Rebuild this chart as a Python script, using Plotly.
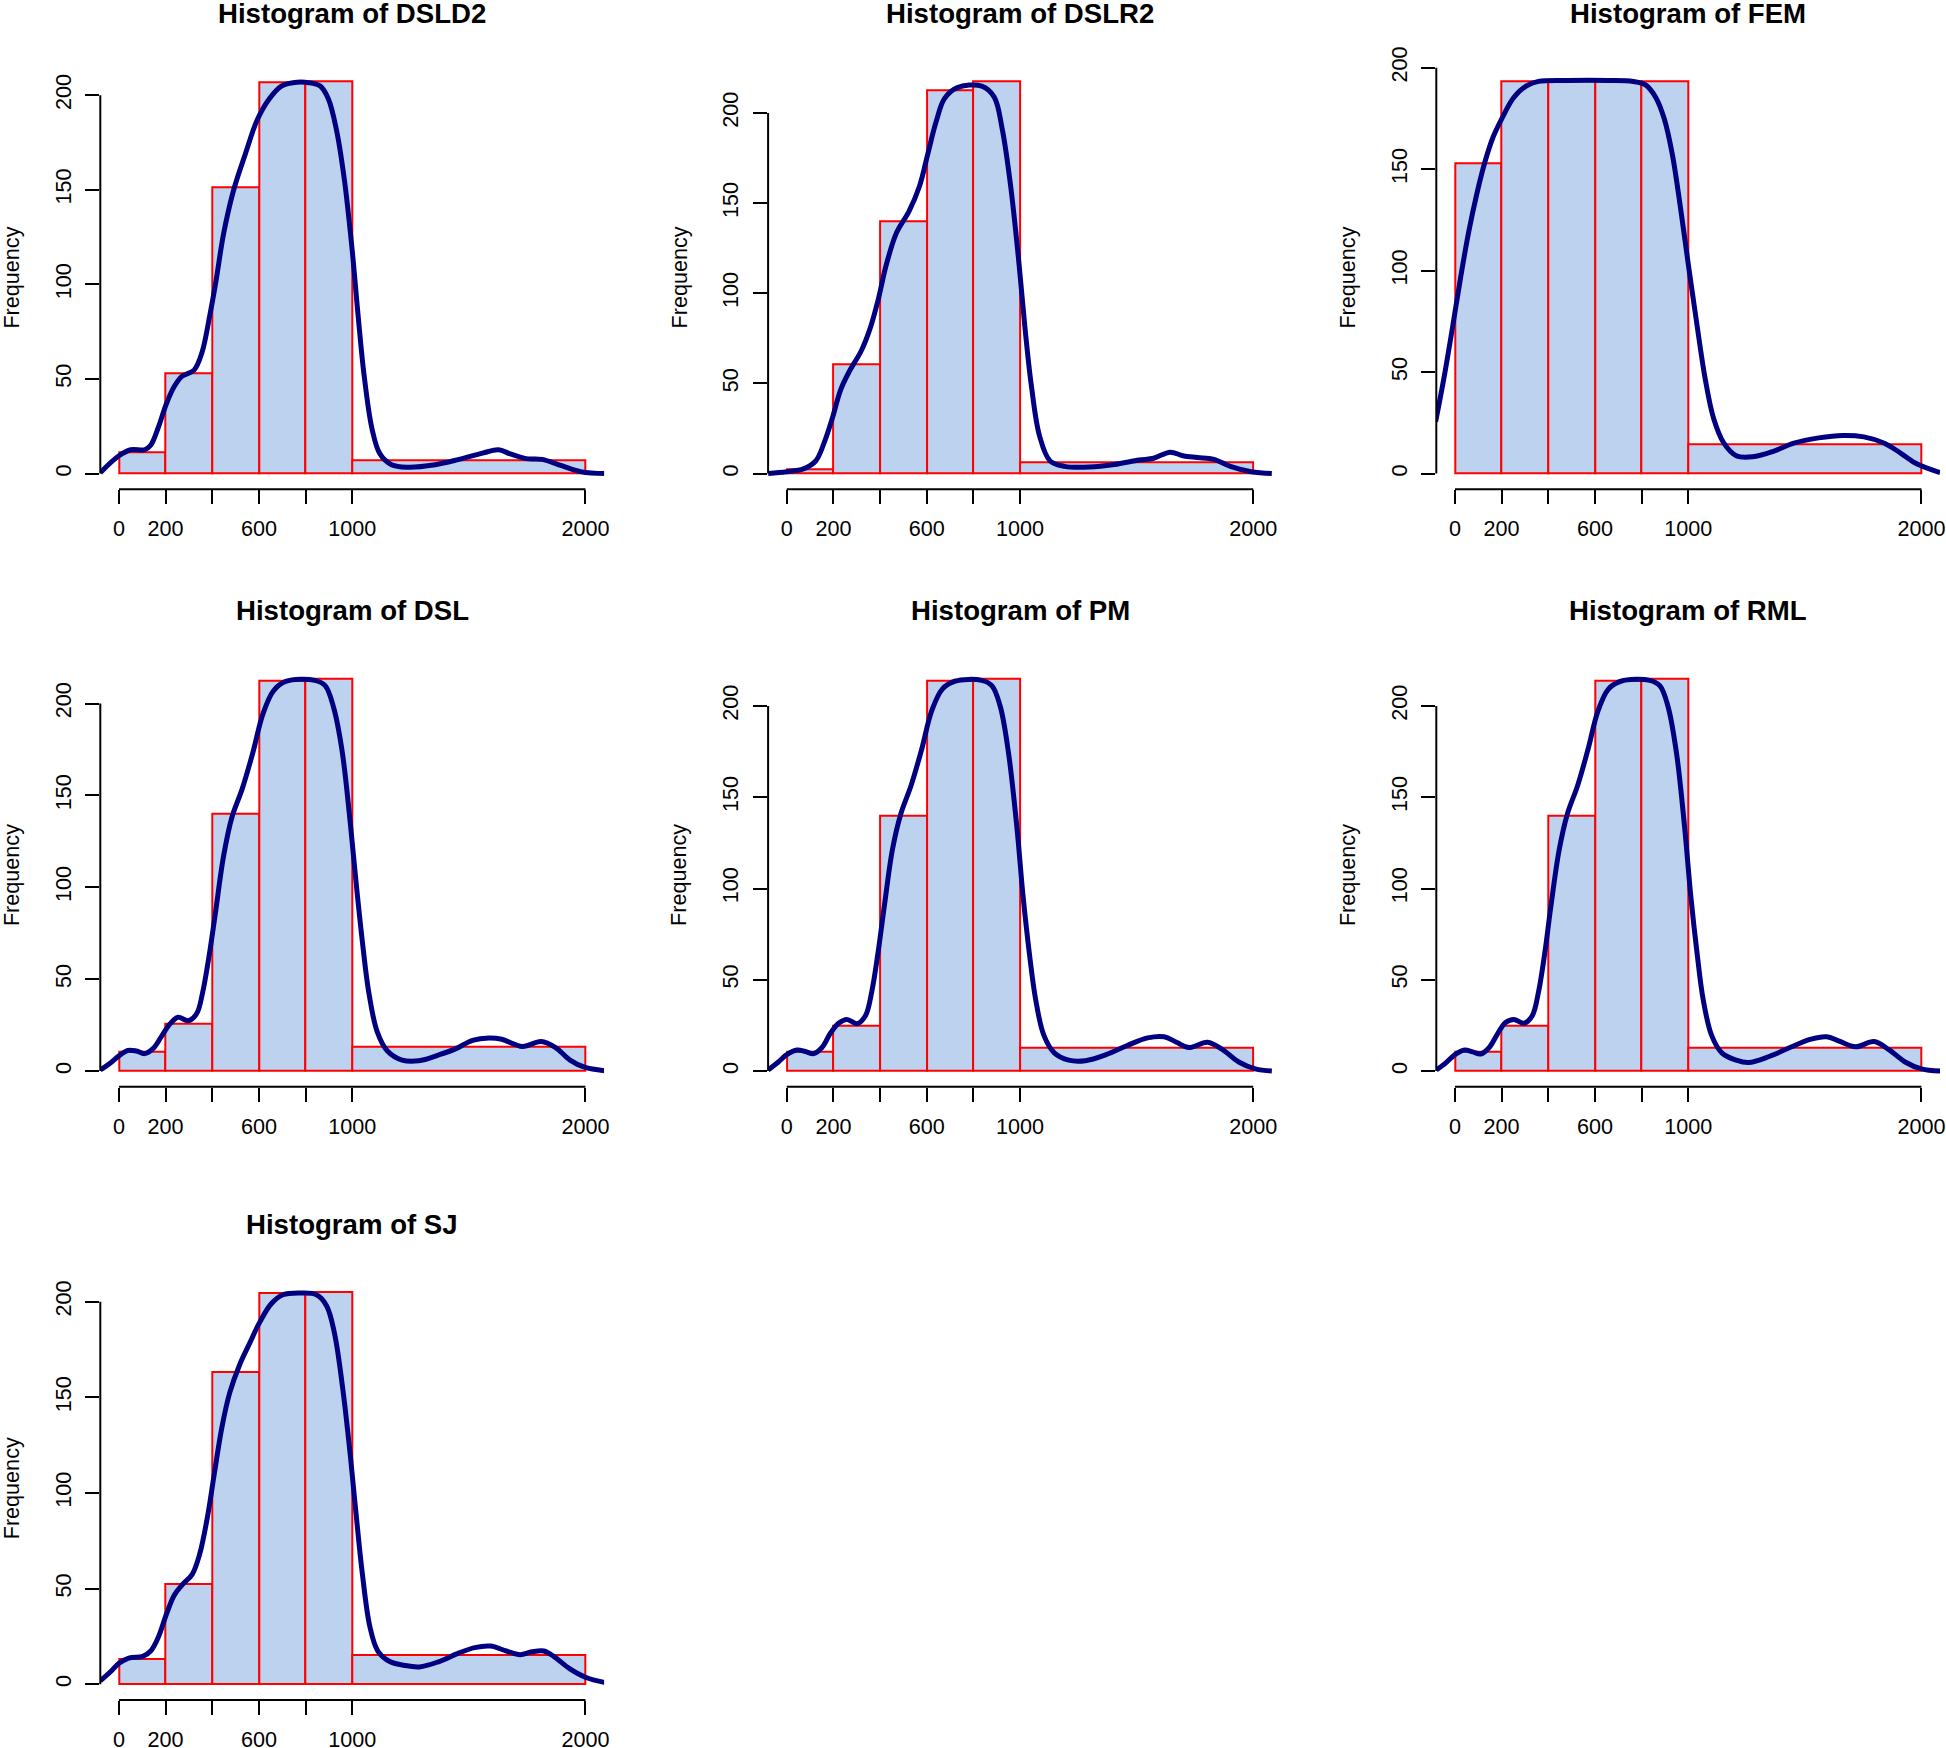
import plotly.graph_objects as go

# histogram breaks shared by every panel
breaks = [0, 200, 400, 600, 800, 1000, 2000]
x_tick_labels = ["0", "200", "", "600", "", "1000", "2000"]
y_ticks = [0, 50, 100, 150, 200]

names = ["DSLD2", "DSLR2", "FEM", "DSL", "PM", "RML", "SJ"]

# bar heights
counts_dsld2 = [11, 53, 151.5, 206.6, 207.5, 7.2]
counts_dslr2 = [2.4, 60.4, 140.2, 212.5, 217.8, 6.3]
counts_fem = [152.9, 193.5, 193.5, 193.5, 193.5, 14.4]
counts_dsl = [10.5, 26, 140, 212.4, 213.6, 13.2]
counts_pm = [10.5, 25, 139.8, 213.7, 215, 12.9]
counts_rml = [10.5, 25, 139.8, 213.7, 215, 12.7]
counts_sj = [13.3, 52.4, 163.5, 204.6, 205.3, 15.2]

# density curves (scaled)
dens_x_dsld2 = [-80, 0, 51, 110, 136, 169, 203, 237, 271, 322, 356, 390, 415, 449, 492, 542, 593, 644,
                695, 746, 814, 864, 898, 932, 966, 1000, 1025, 1051, 1085, 1119, 1169, 1237, 1356,
                1458, 1559, 1627, 1678, 1746, 1814, 1898, 1983, 2085]
dens_y_dsld2 = [0.5, 9.4, 12.6, 12.6, 15, 24.5, 36.8, 46, 51.5, 54.7, 64, 84, 101, 127, 150, 169, 187, 198,
                204.7, 206.6, 206.6, 204.7, 198, 182, 155.7, 118, 84, 52, 23.6, 10.4, 4.7, 3.4, 4.7,
                7.5, 10.8, 12.6, 10.4, 7.9, 7.5, 4.2, 0.9, 0]

dens_x_dslr2 = [-80, 0, 71, 124, 160, 196, 231, 267, 320, 356, 391, 427, 471, 524, 569, 604, 640, 676,
                729, 836, 889, 924, 960, 996, 1022, 1049, 1084, 1129, 1191, 1298, 1404, 1511, 1573,
                1644, 1698, 1760, 1831, 1902, 1991, 2080]
dens_y_dslr2 = [0, 1, 2.6, 7, 17, 31, 46.5, 56.4, 68.3, 80, 96, 116, 133.7, 145.5, 159.4, 177, 195, 208,
                214, 215, 209, 191, 159.4, 116, 80, 48.5, 20.8, 7, 4, 3.6, 5, 7.5, 8.5,
                11.9, 9.9, 8.9, 7.9, 4, 1, 0]

dens_x_fem = [-83, -48, -12, 23, 58, 94, 129, 164, 201, 252, 305, 358, 482, 658, 764, 817, 861, 897,
              932, 967, 1003, 1038, 1073, 1109, 1153, 1206, 1276, 1365, 1453, 1559, 1665, 1753,
              1841, 1912, 1982, 2080]
dens_y_fem = [25.5, 46.6, 71, 95.8, 118.6, 138, 153.8, 166, 175, 185.4, 191, 193.3, 193.8, 193.8, 193.3,
              191.6, 185.4, 175, 157.3, 131, 101, 73, 46.6, 27.2, 15, 8.8, 8.3, 11, 15, 17.6, 18.8,
              18.1, 15, 10, 4.7, 0.5]

dens_x_dsl = [-80, -41, 0, 39, 75, 110, 146, 181, 217, 253, 297, 333, 359, 386, 413, 448, 484, 528, 573,
              617, 662, 715, 840, 884, 920, 956, 991, 1018, 1044, 1071, 1107, 1151, 1214, 1285, 1374,
              1445, 1516, 1587, 1641, 1730, 1810, 1872, 1934, 1996, 2080]
dens_y_dsl = [0.6, 4, 8.3, 11.3, 10.9, 9.5, 12.2, 18.6, 25.4, 29.3, 27.4, 31.2, 42.9, 62.3, 85.5, 116.6,
              138, 153.4, 172.8, 194.2, 206.8, 212, 212.6, 209.7, 198, 174.8, 136, 101, 70, 42.9, 21.5,
              10.9, 6, 5.6, 8.9, 12.2, 16.7, 18, 17.3, 13.4, 16.1, 12.8, 6, 2.1, 0.2]

dens_x_pm = [-80, -36, 0, 44, 80, 116, 151, 187, 222, 258, 302, 338, 364, 391, 418, 453, 489, 533, 578,
             622, 667, 720, 836, 880, 916, 951, 987, 1013, 1040, 1067, 1102, 1147, 1209, 1280, 1369,
             1458, 1547, 1618, 1671, 1724, 1804, 1867, 1938, 2009, 2080]
dens_y_pm = [0.6, 5, 9, 11.5, 10.7, 9.6, 12.9, 20.7, 26.2, 28.3, 26, 30.5, 43.2, 64.6, 90, 121.3, 140.8,
             156.4, 176, 197.5, 209.2, 213.5, 214, 211, 199.4, 174, 133, 96, 64.6, 39.3, 19.7, 10, 6,
             5.7, 9, 13.9, 18.2, 18.8, 15.8, 12.9, 15.8, 11.9, 5, 1.2, 0]

dens_x_rml = [-80, -39, 0, 41, 76, 111, 147, 182, 217, 252, 297, 332, 358, 385, 411, 447, 482, 526, 570,
              614, 658, 711, 835, 879, 914, 950, 985, 1011, 1038, 1064, 1100, 1144, 1206, 1259, 1347,
              1436, 1523, 1594, 1647, 1718, 1797, 1859, 1930, 2000, 2080]
dens_y_rml = [0.6, 4.5, 9, 11.5, 10.5, 9.4, 12.9, 20.3, 26.6, 28.3, 26.2, 30.5, 43.2, 64.6, 90, 121.3,
              140.8, 156.4, 176, 197.5, 209.2, 213.5, 214, 211, 199.4, 174, 133, 96, 64.6, 39.3, 19.7,
              10, 6, 4.7, 8, 12.9, 17.4, 18.8, 16.4, 13.3, 16.2, 11.9, 5, 1.2, 0]

dens_x_sj = [-80, -34, 0, 42, 102, 136, 169, 203, 237, 271, 314, 347, 381, 407, 441, 475, 517, 559, 602,
             653, 703, 780, 847, 890, 924, 958, 992, 1017, 1042, 1076, 1110, 1161, 1220, 1288, 1373,
             1458, 1525, 1593, 1661, 1720, 1771, 1822, 1864, 1932, 2000, 2085]
dens_y_sj = [1.8, 6.8, 11, 13.7, 14.6, 17.4, 24.7, 36.5, 46.6, 52, 57.5, 68.5, 88.6, 108.7, 134.2, 152.5,
             167, 178, 189, 199, 203.7, 204.6, 203.7, 198, 183.6, 156, 119.6, 88.6, 59.4, 30, 17.4,
             11.9, 10, 9.1, 11.9, 16.4, 19.2, 20, 17.4, 15.5, 17, 17.4, 14.6, 8.2, 3.7, 0.9]

counts = [counts_dsld2, counts_dslr2, counts_fem, counts_dsl, counts_pm, counts_rml, counts_sj]
dens_x = [dens_x_dsld2, dens_x_dslr2, dens_x_fem, dens_x_dsl, dens_x_pm, dens_x_rml, dens_x_sj]
dens_y = [dens_y_dsld2, dens_y_dslr2, dens_y_fem, dens_y_dsl, dens_y_pm, dens_y_rml, dens_y_sj]

W_FIG, H_FIG = 1946, 1748
col_left = [100.3, 768.1, 1436.3]   # px, left edge of each plot region
row_bottom = [489.3, 1086.8, 1700]  # px, bottom edge of each plot region
PW, PH = 503.8, 424

FONT = "Liberation Sans, Arial, Helvetica, sans-serif"
BAR_FILL = "#BCD2EE"
BAR_LINE = "#FF0000"
CURVE = "#000080"

centers = [(a + b) / 2 for a, b in zip(breaks[:-1], breaks[1:])]
widths = [b - a for a, b in zip(breaks[:-1], breaks[1:])]
pad = 0.04 * (breaks[-1] - breaks[0])

fig = go.Figure()
layout = {}
shapes = []
annotations = []

for i, name in enumerate(names):
    n = i + 1
    r, c = divmod(i, 3)
    xa = "x" if n == 1 else f"x{n}"
    ya = "y" if n == 1 else f"y{n}"
    left = col_left[c]
    bottom = row_bottom[r]
    top = bottom - PH

    fig.add_trace(go.Bar(
        x=centers, y=counts[i], width=widths,
        marker=dict(color=BAR_FILL, line=dict(color=BAR_LINE, width=2)),
        xaxis=xa, yaxis=ya, showlegend=False, hoverinfo="skip",
    ))
    fig.add_trace(go.Scatter(
        x=dens_x[i], y=dens_y[i], mode="lines",
        line=dict(color=CURVE, width=5, shape="spline", smoothing=1.0),
        xaxis=xa, yaxis=ya, showlegend=False, hoverinfo="skip",
    ))

    ymax = max(counts[i])
    layout["xaxis" if n == 1 else f"xaxis{n}"] = dict(
        domain=[left / W_FIG, (left + PW) / W_FIG],
        range=[breaks[0] - pad, breaks[-1] + pad],
        anchor=ya, automargin=False,
        showgrid=False, zeroline=False, showline=False,
        tickvals=breaks, ticktext=x_tick_labels,
        ticks="outside", ticklen=14, tickwidth=2, tickcolor="black",
        ticklabelstandoff=6,
        tickfont=dict(family=FONT, size=21.6, color="black"),
    )
    layout["yaxis" if n == 1 else f"yaxis{n}"] = dict(
        domain=[1 - bottom / H_FIG, 1 - top / H_FIG],
        range=[-0.04 * ymax, 1.04 * ymax],
        anchor=xa, automargin=False,
        showgrid=False, zeroline=False, showline=False,
        tickvals=y_ticks, tickangle=-90,
        ticks="outside", ticklen=14, tickwidth=2, tickcolor="black",
        ticklabelstandoff=6,
        tickfont=dict(family=FONT, size=21.6, color="black"),
    )

    # R-style axis lines that only run between the first and last tick
    shapes.append(dict(type="line", xref=xa, yref=f"{ya} domain",
                       x0=breaks[0], x1=breaks[-1], y0=0, y1=0,
                       line=dict(color="black", width=2)))
    shapes.append(dict(type="line", xref=f"{xa} domain", yref=ya,
                       x0=0, x1=0, y0=y_ticks[0], y1=y_ticks[-1],
                       line=dict(color="black", width=2)))

    annotations.append(dict(
        text=f"<b>Histogram of {name}</b>", xref="paper", yref="paper",
        x=(left + PW / 2) / W_FIG, y=1 - (top - 52) / H_FIG,
        xanchor="center", yanchor="middle", showarrow=False,
        font=dict(family=FONT, size=27.6, color="black"),
    ))
    annotations.append(dict(
        text="Frequency", xref="paper", yref="paper",
        x=(left - 89) / W_FIG, y=1 - (top + PH / 2) / H_FIG,
        xanchor="center", yanchor="middle", textangle=-90, showarrow=False,
        font=dict(family=FONT, size=21.6, color="black"),
    ))

fig.update_layout(
    width=W_FIG, height=H_FIG,
    margin=dict(l=0, r=0, t=0, b=0, autoexpand=False),
    paper_bgcolor="white", plot_bgcolor="white",
    bargap=0, barmode="overlay",
    shapes=shapes, annotations=annotations,
    **layout,
)

# pin the graph to the page corner so the page is exactly the figure size
pin = ("document.body.style.margin='0';"
       "var gd=document.getElementById('{plot_id}');"
       "gd.style.position='absolute';gd.style.top='0';gd.style.left='0';")
fig.write_html("out.html", config={"displayModeBar": False}, post_script=pin)
